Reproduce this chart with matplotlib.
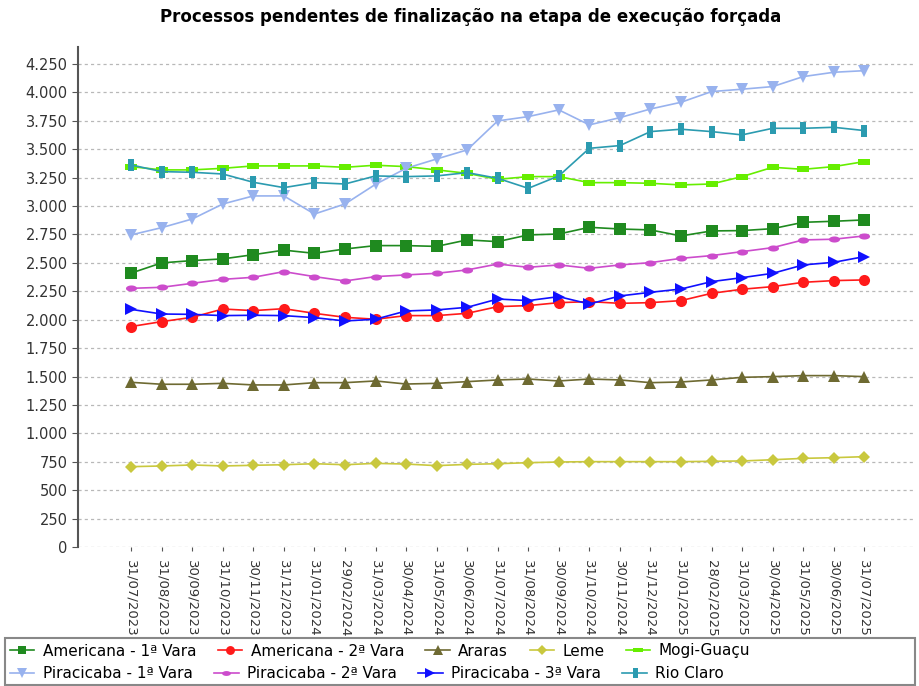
import numpy as np
import matplotlib
matplotlib.use('Agg')
import matplotlib.pyplot as plt
from matplotlib.patches import Rectangle
from matplotlib.ticker import FuncFormatter, MultipleLocator

dates = ['31/07/2023', '31/08/2023', '30/09/2023', '31/10/2023', '30/11/2023',
         '31/12/2023', '31/01/2024', '29/02/2024', '31/03/2024', '30/04/2024',
         '31/05/2024', '30/06/2024', '31/07/2024', '31/08/2024', '30/09/2024',
         '31/10/2024', '30/11/2024', '31/12/2024', '31/01/2025', '28/02/2025',
         '31/03/2025', '30/04/2025', '31/05/2025', '30/06/2025', '31/07/2025']

americana_1 = [2410, 2500, 2520, 2535, 2572, 2612, 2584, 2622, 2652, 2652, 2645, 2702, 2687,
               2746, 2754, 2813, 2798, 2790, 2737, 2781, 2784, 2801, 2857, 2866, 2878]
americana_2 = [1940, 1983, 2021, 2094, 2080, 2097, 2056, 2021, 2004, 2036, 2036, 2056, 2115,
               2124, 2150, 2159, 2144, 2150, 2168, 2232, 2268, 2291, 2329, 2344, 2350]
araras = [1449, 1432, 1432, 1440, 1426, 1426, 1446, 1446, 1461, 1434, 1440, 1455, 1470,
          1478, 1461, 1478, 1470, 1446, 1452, 1470, 1493, 1499, 1508, 1508, 1499]
leme = [707, 713, 722, 713, 719, 724, 733, 724, 736, 730, 716, 727, 733,
        742, 748, 751, 751, 751, 751, 754, 757, 768, 780, 786, 795]
mogi_guacu = [3347, 3318, 3318, 3332, 3353, 3353, 3353, 3341, 3359, 3347, 3318, 3288, 3235,
              3259, 3259, 3206, 3206, 3200, 3186, 3194, 3259, 3341, 3323, 3347, 3391]
piracicaba_1 = [2746, 2810, 2886, 3018, 3089, 3089, 2930, 3018, 3191, 3332, 3414, 3494, 3749,
                3787, 3846, 3714, 3778, 3854, 3913, 4007, 4028, 4051, 4139, 4177, 4191]
piracicaba_2 = [2276, 2285, 2320, 2355, 2373, 2423, 2379, 2341, 2379, 2394, 2408, 2438, 2490,
                2461, 2482, 2452, 2482, 2502, 2540, 2564, 2599, 2634, 2702, 2708, 2737]
piracicaba_3 = [2091, 2050, 2047, 2036, 2039, 2036, 2018, 1989, 2004, 2077, 2086, 2109, 2182,
                2168, 2203, 2138, 2209, 2241, 2270, 2335, 2370, 2408, 2482, 2505, 2555]
rio_claro = [3362, 3303, 3297, 3282, 3209, 3162, 3206, 3194, 3265, 3259, 3265, 3294, 3244,
             3156, 3265, 3508, 3532, 3655, 3676, 3655, 3626, 3684, 3684, 3693, 3664]

# marcadores no estilo JFreeChart
hrect = [(-1, -0.45), (1, -0.45), (1, 0.45), (-1, 0.45), (-1, -0.45)]
vrect = [(-0.5, -1), (0.5, -1), (0.5, 1), (-0.5, 1), (-0.5, -1)]
t = np.linspace(0, 2 * np.pi, 25)
hellipse = list(zip(np.cos(t), 0.55 * np.sin(t)))

series = [
    ('Americana - 1ª Vara', americana_1, '#1f8a1f', 's', 8),
    ('Americana - 2ª Vara', americana_2, '#ff1a1a', 'o', 8),
    ('Araras', araras, '#6e6a32', '^', 9),
    ('Leme', leme, '#c9c83e', 'D', 6),
    ('Mogi-Guaçu', mogi_guacu, '#66ee00', hrect, 9),
    ('Piracicaba - 1ª Vara', piracicaba_1, '#98b2ee', 'v', 9),
    ('Piracicaba - 2ª Vara', piracicaba_2, '#cc4ccc', hellipse, 8),
    ('Piracicaba - 3ª Vara', piracicaba_3, '#1010ff', '>', 9),
    ('Rio Claro', rio_claro, '#2b9bb0', vrect, 9),
]

plt.rcParams['font.family'] = 'DejaVu Sans'
fig = plt.figure(figsize=(9.19, 6.86), dpi=100)
ax = fig.add_axes([0.085, 0.2026, 0.91, 0.729])

x = np.arange(len(dates))
handles = []
for name, vals, col, mk, ms in series:
    h, = ax.plot(x, vals, color=col, marker=mk, markersize=ms, linewidth=1.2,
                 markeredgewidth=0, label=name)
    handles.append(h)

ax.set_xlim(-1.735, 25.64)
ax.set_ylim(0, 4400)
ax.yaxis.set_major_locator(MultipleLocator(250))
ax.yaxis.set_major_formatter(FuncFormatter(lambda v, p: f'{int(v):,}'.replace(',', '.')))
ax.set_xticks(x)
ax.set_xticklabels(dates, rotation=-90, fontsize=9.5, color='#333333')
ax.tick_params(axis='y', labelsize=10.5, labelcolor='#333333', length=4, color='#555555')
ax.tick_params(axis='x', length=3, color='#555555', pad=6)
ax.grid(axis='y', color='#b8b8b8', linestyle=(0, (2.5, 2.5)), linewidth=0.9)
ax.set_axisbelow(True)
for s in ['top', 'right', 'bottom']:
    ax.spines[s].set_visible(False)
ax.spines['left'].set_color('#555555')
ax.spines['left'].set_linewidth(1.5)

fig.text(0.512, 0.975, 'Processos pendentes de finalização na etapa de execução forçada',
         ha='center', va='center', fontsize=12, fontweight='bold')

# legenda em duas linhas, dentro de uma moldura
fig.patches.append(Rectangle((5 / 919, 1 - 685 / 686), 910 / 919, 47 / 686,
                             transform=fig.transFigure, fill=False,
                             edgecolor='#888888', linewidth=1.5))
leg_kw = dict(frameon=False, fontsize=11, handlelength=1.6, handletextpad=0.55,
              columnspacing=1.4, borderpad=0, borderaxespad=0, markerscale=0.8)
leg1 = fig.legend(handles=handles[:5], ncol=5, loc='center left',
                  bbox_to_anchor=(10 / 919, 1 - 651 / 686), **leg_kw)
leg2 = fig.legend(handles=handles[5:], ncol=4, loc='center left',
                  bbox_to_anchor=(10 / 919, 1 - 674 / 686), **leg_kw)

fig.savefig('out.png', dpi=100)
